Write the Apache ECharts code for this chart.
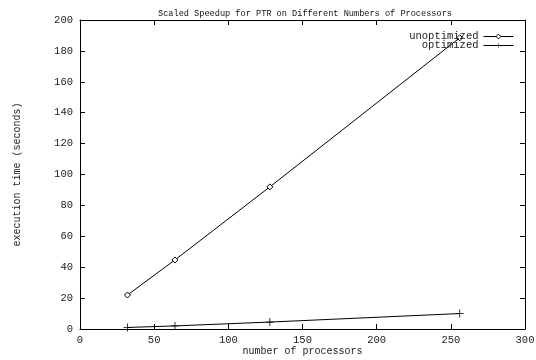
<!DOCTYPE html>
<html>
<head>
<meta charset="utf-8">
<script src="https://cdn.jsdelivr.net/npm/echarts@6/dist/echarts.min.js"></script>
<style>
  html, body { margin: 0; padding: 0; background: #fff; }
  #chart { width: 536px; height: 360px; }
</style>
</head>
<body>
<div id="chart"></div>
<script>
// number of processors
var procs = [32, 64, 128, 256];
// execution time (seconds)
var unoptimized = [22, 44.7, 92, 188.5];
var optimized = [1, 2, 4.5, 10];

var FONT = '"Liberation Mono", "DejaVu Sans Mono", monospace';

function pairs(xs, ys){
    var out = [];
    for(var i=0; i<xs.length; i++){
        out.push([xs[i], ys[i]]);
    }
    return out;
}
function frame(){
    return {show: true, onZero: false, lineStyle: {color: '#000', width: 1}};
}
function tick(){
    return {show: true, inside: true, length: 5, lineStyle: {color: '#000', width: 1}};
}

var plus = 'path://M4.5,0H5.5V4.5H10V5.5H5.5V10H4.5V5.5H0V4.5H4.5Z';

var chart = echarts.init(document.getElementById('chart'));

var option = {
    animation: false,
    backgroundColor: '#fff',
    title: {
        text: 'Scaled Speedup for PTR on Different Numbers of Processors',
        left: 153,
        top: 4,
        textStyle: {fontFamily: FONT, fontSize: 8.6, fontWeight: 'normal', color: '#111'}
    },
    legend: {
        right: 17,
        top: 26,
        orient: 'vertical',
        align: 'right',
        itemWidth: 30,
        itemHeight: 6,
        itemGap: -2,
        lineStyle: {width: 1},
        textStyle: {fontFamily: FONT, fontSize: 10.5, color: '#222'},
        data: [
            {name: 'unoptimized', itemStyle: {color: '#fff', borderColor: '#000', borderWidth: 1}},
            {name: 'optimized'}
        ]
    },
    grid: {left: 80, right: 11, top: 20, bottom: 31, outerBoundsMode: 'none'},
    xAxis: [
        {
            type: 'value', min: 0, max: 300, interval: 50,
            name: 'number of processors', nameLocation: 'middle', nameGap: 17,
            nameMoveOverlap: false,
            nameTextStyle: {fontFamily: FONT, fontSize: 10, color: '#222'},
            axisLine: frame(), axisTick: tick(), splitLine: {show: false},
            axisLabel: {fontFamily: FONT, fontSize: 10.5, color: '#222', margin: 6}
        },
        {
            type: 'value', position: 'top', min: 0, max: 300, interval: 50,
            axisLine: frame(), axisTick: tick(), splitLine: {show: false},
            axisLabel: {show: false}
        }
    ],
    yAxis: [
        {
            type: 'value', min: 0, max: 200, interval: 20,
            name: 'execution time (seconds)', nameLocation: 'middle', nameGap: 58,
            nameMoveOverlap: false,
            nameTextStyle: {fontFamily: FONT, fontSize: 10, color: '#222'},
            axisLine: frame(), axisTick: tick(), splitLine: {show: false},
            axisLabel: {fontFamily: FONT, fontSize: 10.5, color: '#222', margin: 7}
        },
        {
            type: 'value', position: 'right', min: 0, max: 200, interval: 20,
            axisLine: frame(), axisTick: tick(), splitLine: {show: false},
            axisLabel: {show: false}
        }
    ],
    series: [
        {
            name: 'unoptimized',
            type: 'line',
            data: pairs(procs, unoptimized),
            symbol: 'diamond',
            symbolSize: 6,
            showAllSymbol: true,
            lineStyle: {color: '#000', width: 1},
            itemStyle: {color: '#fff', borderColor: '#000', borderWidth: 1}
        },
        {
            name: 'optimized',
            type: 'line',
            data: pairs(procs, optimized),
            symbol: plus,
            symbolSize: 8,
            showAllSymbol: true,
            lineStyle: {color: '#000', width: 1},
            itemStyle: {color: '#000'}
        }
    ]
};
chart.setOption(option);
</script>
</body>
</html>
